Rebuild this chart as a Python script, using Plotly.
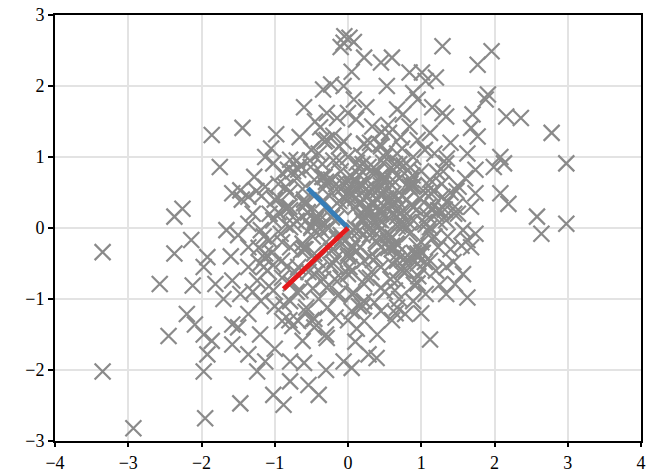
import plotly.graph_objects as go

# Scatter points (x, y)
points_x = [
 -0.06,-0.10,0.02,0.08,-0.05,0.22,0.45,1.29,1.77,1.96,0.84,1.01,1.20,1.06,-0.23,-0.06,-0.34,0.53,0.89,1.91,1.88,0.08,
 -0.29,0.67,0.95,1.29,1.34,2.16,2.36,2.78,1.68,1.77,2.98,2.08,2.13,1.99,-1.44,-1.86,-1.75,0.00,0.11,0.33,0.56,0.84,1.12,
 0.95,-0.29,-0.12,-0.40,0.22,0.45,0.67,0.89,1.18,1.34,1.63,1.74,-1.13,-1.02,-0.79,-0.68,-0.90,-0.51,
 -1.47,-1.36,-1.58,-1.13,-0.85,-0.46,-0.23,0.05,0.33,0.61,0.84,1.06,1.29,1.51,1.74,2.08,2.19,2.58,2.64,2.98,1.68,1.46,
 1.23,0.89,0.67,0.45,0.22,-0.06,-0.34,-0.57,-0.79,-1.07,-2.26,-2.37,-2.14,-2.37,-2.57,-2.12,-1.92,-1.97,-1.66,-1.36,-1.19,
 -1.02,-0.79,-0.57,-0.40,0.22,0.45,0.67,0.89,1.12,1.34,1.57,1.74,1.63,1.68,0.16,0.39,0.61,0.84,
 -3.35,-3.35,-2.93,-1.95,-1.47,-0.88,-1.02,-0.40,-0.54,-0.79,-1.24,-1.13,-0.79,0.05,-0.06,0.39,0.28,1.12,-2.45,-2.20,-2.09,
 -1.97,-1.86,-1.92,-1.97,-1.58,-1.36,-1.58,-1.36,-1.19,-1.47,-1.58,-1.24,-1.81,-1.02,-0.79,-0.57,-0.68,-0.90,-0.46,-0.62,
 -0.29,-0.17,0.05,0.22,0.45,0.67,0.78,0.89,1.06,1.34,1.63,1.46,1.57,1.34,1.12,0.95,1.23,0.67,0.45,0.22,0.00,0.22,0.45,0.67,
 -0.12,-0.29,-0.46,-0.68,-0.90,-1.13,-1.36,-1.07,-0.79,-0.46,-0.23,0.00,0.16,0.45,0.05,0.22,-1.36,
 0.1,0.3,0.5,0.2,-0.2,0.4,0.6,0.8,0.7,0.2,-0.1,-0.3,0.1,0.3,-0.1,-0.3,-0.5,-0.6,-0.4,-0.2,0.0,0.5,0.7,0.9,1.1,1.3,1.0,0.5,
 0.3,0.0,-0.2,-0.5,-0.8,-1.0,-1.2,-0.9,-0.7,-0.4,-0.1,0.3,0.6,0.8,1.0,1.2,1.4,1.5,1.6,0.4,0.6,0.2,0.0,-0.1,0.1,0.3,0.5,0.7,
 0.9,1.1,0.8,0.6,0.4,0.2,-0.2,-0.4,-0.6,-0.7,-0.9,-1.1,-1.3,-1.0,-0.8,-0.5,-0.3,0.0,0.2,0.5,0.7,0.9,1.2,1.4,0.3,0.45,0.65,
 0.15,-0.05,0.85,1.05,0.55,0.25,-0.15,0.75,1.15,1.4,1.7,-0.45,-0.6,0.05,0.6,-0.35,-0.7,-1.3,-1.5,-1.6,-1.7,-1.5,-1.2,-1.0,
 -0.6,-0.3,0.1,0.4,0.6,1.0,0.95,1.25,
 -0.25,0.05,0.35,0.62,0.88,1.12,1.35,-0.55,-0.85,-1.15,-0.35,0.15,0.42,0.72,0.98,1.28,-0.62,-0.92,-1.22,-0.08,0.28,0.55,
 0.82,1.08,1.32,-0.42,-0.72,-1.02,0.12,0.38,0.68,0.92,1.18,-0.18,-0.48,-0.78,-1.08,0.02,0.32,0.58,0.78,1.02,-0.32,-0.62,
 -0.95,-0.12,0.18,0.48,0.74,1.22,1.48,-0.52,-0.82,-1.18,0.08,0.36,0.64,0.96,-0.28,-0.58,-0.88,-0.02,0.26,0.52,0.86,1.16,
 -0.38,-0.66,-1.28,-0.16,0.14,0.44,0.76,1.06,1.36,-0.44,-0.74,-1.04,-0.24,0.06,0.34,0.66,0.94,-0.14,-0.54,-0.84,0.24,0.58,
 0.88,1.14,1.44,-0.34,-0.64,-0.98,-0.06,0.22,0.46,0.72,1.02,1.26,-0.46,-0.76,-1.14,0.12,0.42,0.68,0.04,-0.22,0.36,0.62,
 -0.05,0.25,0.55,0.85,1.15,-0.35,-0.65,-0.95,0.10,0.40,0.70,1.00,-0.20,-0.50,-0.80,0.20,0.50,0.80,1.10,-0.10,-0.40,-0.70,
 0.00,0.30,0.60,0.90,-0.30,-0.60,0.15,0.45,0.75,1.05,-0.15,-0.45,-0.75,0.35,0.65,0.95,-0.25,-0.55,0.05,0.55,1.25,-1.05,
 -1.25,-1.45,0.25,0.85,1.45,-0.85,0.15,0.95,1.55,-0.65,0.45,1.35,-1.15,0.75,-0.35,0.05,0.65,1.15,-0.95,-0.15,
 0.32,0.18,0.48,0.08,0.62,0.28,0.42,0.58,0.12,0.38,0.02,0.52,0.22,0.68,0.34,0.46,0.16,0.56,0.26,0.76,-0.08,0.86,
 -0.18,0.94,-0.32,0.72,-0.48,0.24,-0.26,0.44,-0.12,0.64,0.06,0.82,-0.42,1.04,-0.58,1.24,0.30,0.50,
]
points_y = [
 2.61,2.55,2.68,2.62,2.70,2.40,2.33,2.56,2.30,2.49,2.19,2.19,2.12,2.07,2.02,2.00,1.95,2.00,1.90,1.88,1.81,1.81,
 1.62,1.67,1.81,1.62,1.57,1.57,1.55,1.34,1.41,1.29,0.91,1.00,0.91,0.86,1.41,1.31,0.86,1.62,1.53,1.43,1.34,1.43,1.34,
 1.24,1.24,1.15,1.05,1.19,1.15,1.05,1.00,1.05,0.91,1.05,0.82,1.00,0.91,0.96,0.82,0.77,0.86,
 0.53,0.44,0.49,0.58,0.58,0.68,0.68,0.72,0.77,0.68,0.58,0.49,0.44,0.58,0.49,0.49,0.34,0.16,-0.08,0.06,0.30,0.30,
 0.25,0.30,0.39,0.49,0.39,0.44,0.39,0.34,0.25,0.20,0.27,0.16,-0.17,-0.36,-0.79,-0.81,-0.41,-0.55,-0.03,0.06,-0.03,
 0.11,0.01,0.11,0.01,0.16,0.11,0.16,0.11,0.01,0.11,-0.03,-0.08,-0.17,-0.27,-0.03,-0.08,-0.13,-0.08,
 -0.34,-2.02,-2.82,-2.68,-2.47,-2.49,-2.35,-2.35,-2.21,-2.16,-2.02,-1.88,-1.88,-1.97,-1.88,-1.83,-1.78,-1.57,-1.52,-1.21,-1.36,
 -1.50,-1.59,-1.78,-2.02,-1.64,-1.78,-1.36,-1.21,-1.03,-0.93,-0.74,-0.74,-0.79,-0.88,-1.03,-1.12,-1.31,-1.31,-1.40,-1.59,
 -1.55,-1.26,-1.17,-1.31,-1.17,-1.12,-1.21,-1.03,-0.93,-0.93,-0.98,-0.79,-0.65,-0.55,-0.46,-0.36,-0.27,-0.46,-0.55,-0.46,-0.65,-0.79,-0.84,-0.74,
 -0.93,-0.84,-0.65,-0.55,-0.46,-0.36,-0.27,-0.17,-0.27,-0.36,-0.32,-0.36,-0.27,-0.27,-0.93,-1.03,-0.55,
 0.3,0.5,0.3,0.1,0.2,0.8,0.6,0.4,0.9,0.9,0.8,0.6,-0.2,-0.4,-0.1,-0.2,0.0,-0.3,-0.6,-0.5,-0.4,-0.1,0.1,0.3,0.6,0.8,0.8,1.0,
 1.2,1.0,1.3,1.1,0.5,0.4,-0.5,-0.7,-0.9,-1.0,-0.7,-0.7,-0.5,-0.6,-0.2,0.2,0.5,0.2,0.7,0.4,0.2,0.6,0.5,0.3,0.0,0.2,0.5,0.7,
 0.6,0.3,0.0,-0.3,-0.2,-0.1,-0.3,0.2,0.4,0.1,-0.2,-0.6,-0.9,-1.1,-1.3,-1.3,-1.5,-1.3,-1.1,-0.9,-1.0,-0.8,-0.6,-0.3,0.0,0.6,0.45,
 0.75,0.6,0.85,1.1,1.45,1.7,1.55,1.6,1.7,1.2,1.6,1.5,1.7,2.2,2.4,0.9,0.7,0.2,-0.1,-0.4,-1.0,-1.4,-1.5,-1.7,
 -1.9,-2.0,-1.6,-1.5,-1.3,-1.2,-0.5,-0.8,
 0.45,0.62,0.58,0.82,0.74,0.68,0.36,0.22,0.28,-0.12,-0.05,0.18,0.12,0.22,0.42,0.62,-0.22,-0.08,-0.28,-0.15,-0.02,-0.18,
 0.08,0.18,0.26,-0.45,-0.62,-0.52,-0.32,-0.42,-0.24,-0.38,-0.12,-0.72,-0.85,-0.78,-0.82,-0.55,-0.62,-0.72,-0.42,-0.58,
 0.72,0.55,0.62,0.95,1.02,0.92,1.12,0.78,0.52,0.95,0.82,0.45,-0.92,-1.05,-0.88,-0.68,-1.12,-1.18,-1.08,0.38,0.28,0.42,
 0.32,0.52,1.42,1.28,0.72,0.62,0.85,0.72,0.88,0.05,-0.12,0.12,0.05,-0.35,-0.52,-0.28,-0.45,-0.22,-0.25,-0.95,-0.62,-0.55,
 0.15,0.32,0.58,0.48,-0.48,-0.72,-0.32,1.32,1.22,1.18,1.35,1.28,-0.35,0.25,-1.28,-1.38,-0.42,-1.42,0.25,0.02,-0.06,
 0.15,0.35,0.48,0.66,0.55,-0.28,-0.42,-0.15,0.72,0.88,0.22,0.42,0.52,0.05,-0.35,0.95,0.02,0.30,0.12,0.72,0.40,-0.05,
 0.55,0.10,0.95,0.45,-0.10,-0.25,-0.35,0.65,0.35,0.58,0.20,-0.60,-0.48,-0.15,0.10,0.80,0.85,0.35,-0.40,0.65,0.22,-0.40,
 -0.10,0.08,1.12,0.52,0.40,-0.70,0.62,0.20,0.05,-1.10,-0.78,-0.25,-0.88,0.25,0.98,-0.55,-0.45,1.25,-0.62,-1.20,
 0.28,0.42,0.14,0.55,0.36,0.66,-0.04,0.18,0.86,0.04,0.32,0.92,-0.18,0.48,1.06,0.26,-0.36,0.10,0.74,0.62,0.40,0.24,
 0.06,-0.22,0.68,-0.44,0.26,1.22,-0.58,-0.12,0.44,0.00,1.18,0.38,0.90,0.60,0.58,0.16,0.08,-0.30,
]

# Principal direction segments (start and end points)
red_x = [0.0, -0.88]
red_y = [0.0, -0.86]
blue_x = [0.0, -0.55]
blue_y = [0.0, 0.56]

x_ticks = [-4, -3, -2, -1, 0, 1, 2, 3, 4]
y_ticks = [-3, -2, -1, 0, 1, 2, 3]

fig = go.Figure()
fig.add_trace(go.Scatter(
    x=points_x, y=points_y, mode="markers",
    marker=dict(symbol="x-thin", size=16, color="#8a8a8a",
                line=dict(color="#8a8a8a", width=2.2)),
    showlegend=False, hoverinfo="skip"))
fig.add_trace(go.Scatter(x=blue_x, y=blue_y, mode="lines",
                         line=dict(color="#377eb8", width=5), showlegend=False))
fig.add_trace(go.Scatter(x=red_x, y=red_y, mode="lines",
                         line=dict(color="#e41a1c", width=5), showlegend=False))

axis_common = dict(showgrid=True, gridcolor="#e3e3e3", gridwidth=1.5,
                   zeroline=False, showline=True, linecolor="black", linewidth=2,
                   mirror=True, ticks="outside", tickwidth=1.5,
                   tickcolor="black", automargin=False,
                   tickfont=dict(family="Liberation Serif", size=18, color="black"))
fig.update_xaxes(range=[-4, 4], tickvals=x_ticks, ticklen=4, **axis_common)
fig.update_yaxes(range=[-3, 3], tickvals=y_ticks, ticklen=5, **axis_common)
fig.update_layout(width=648, height=472, plot_bgcolor="white", paper_bgcolor="white",
                  margin=dict(l=55, r=7, t=15, b=31))
fig.write_html("out.html", config={"displayModeBar": False},
               post_script="document.body.style.margin='0';")
